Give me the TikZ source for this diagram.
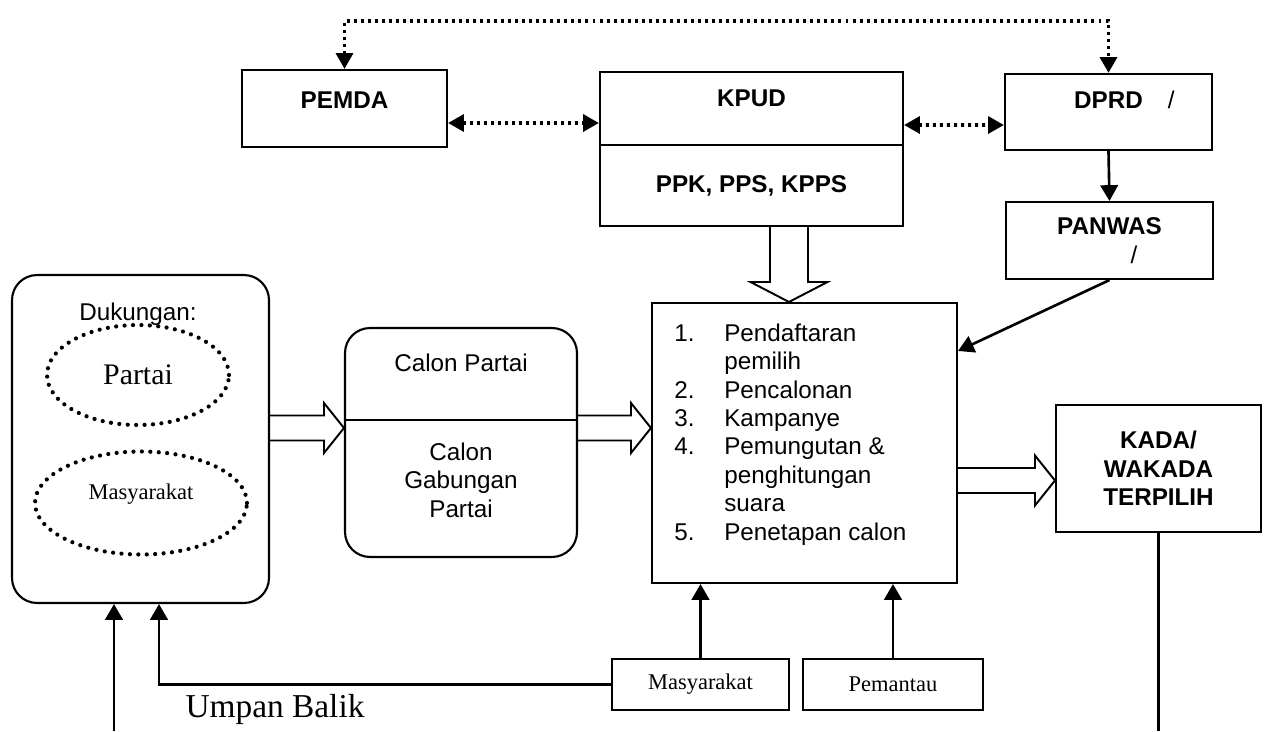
\documentclass[tikz,border=0pt]{standalone}
\usepackage{fontspec}
\setmainfont{Liberation Sans}
\newfontfamily\tnr{Liberation Serif}
\usetikzlibrary{arrows.meta,shapes.geometric,calc}

\tikzset{
  box/.style={draw, line width=1.2pt, inner sep=0pt},
  head/.style={box, font=\fontsize{13.8}{16.2}\selectfont\bfseries},
  rbox/.style={box, rounded corners=0.5cm},
  dotring/.style={ellipse, draw, line width=2.4pt, line cap=round, dash pattern=on 0pt off 4.8pt, inner sep=0pt},
  arrow/.style={line width=1.5pt, -{Triangle[length=9pt,width=10pt]}},
  dotarrow/.style={line width=2.2pt, dash pattern=on 1.7pt off 2.3pt,
    {Triangle[length=9pt,width=9.5pt]}-{Triangle[length=9pt,width=9.5pt]}},
  hollow/.style={line width=1.1pt, line join=miter},
  serifsmall/.style={font=\tnr\fontsize{12.8}{15}\selectfont}
}

% hollow block arrows, from start point to tip
\newcommand{\blockright}[2]{%
  \coordinate (bs) at (#1);
  \coordinate (bt) at (#2);
  \draw[hollow] ($(bs)+(0,-12.5)$) -- ($(bt)+(-20,-12.5)$) -- ($(bt)+(-20,-25)$)
    -- (bt) -- ($(bt)+(-20,25)$) -- ($(bt)+(-20,12.5)$) -- ($(bs)+(0,12.5)$);}
\newcommand{\blockdown}[2]{%
  \coordinate (bs) at (#1);
  \coordinate (bt) at (#2);
  \draw[hollow] ($(bs)+(-19,0)$) -- ($(bt)+(-19,-20)$) -- ($(bt)+(-38.5,-20)$)
    -- (bt) -- ($(bt)+(38.5,-20)$) -- ($(bt)+(19,-20)$) -- ($(bs)+(19,0)$);}

\begin{document}
\begin{tikzpicture}[x=0.02cm, y=-0.02cm, font=\fontsize{13.8}{16.2}\selectfont]
    \useasboundingbox (0,0) rectangle (1269,731);

    % top row
    \node[head, minimum width=4.1cm, minimum height=1.54cm, text depth=9.9pt] (pemda) at (344.5,108.5) {PEMDA};
    \node[head, minimum width=6.06cm, minimum height=1.46cm, text depth=12.2pt] (kpud) at (751.5,108.5) {KPUD};
    \node[head, minimum width=6.06cm, minimum height=1.62cm] (ppk) at (751.5,185.5) {PPK, PPS, KPPS};
    \node[head, minimum width=4.14cm, minimum height=1.52cm, text depth=13.9pt] (dprd) at (1108.5,112) {DPRD\rlap{\mdseries\hspace{0.5cm}/}};
    \node[head, minimum width=4.14cm, minimum height=1.54cm, align=center] (panwas) at (1109.5,240.5) {PANWAS\\\rlap{\mdseries\hspace{0.42cm}/}};

    % dukungan
    \node[rbox, minimum width=5.14cm, minimum height=6.56cm] (duk) at (140.5,439) {};
    \node (dukt) at (138,314) {Dukungan:};
    \node[dotring, minimum width=3.64cm, minimum height=2cm, font=\tnr\fontsize{17}{20}\selectfont] (ptai) at (138,375) {Partai};
    \node[dotring, serifsmall, minimum width=4.24cm, minimum height=2.06cm, text depth=12.5pt] (mell) at (141,503) {Masyarakat};

    % calon
    \coordinate (split) at (0,420);
    \node[rbox, minimum width=4.64cm, minimum height=4.58cm] (calon) at (461,442.5) {};
    \draw[line width=1.2pt] (calon.west |- split) -- (calon.east |- split);
    \node (calp) at (461,363) {Calon Partai};
    \node[align=center] (calg) at (461,480) {Calon\\Gabungan\\Partai};

    % tahapan
    \node[box, minimum width=6.1cm, minimum height=5.6cm] (proc) at (804.5,443) {};
    \node[anchor=west, inner sep=0pt] (steps) at (674,435) {\begin{tabular}{@{}p{1cm}@{}l@{}}
      1. & Pendaftaran\\ & pemilih\\ 2. & Pencalonan\\ 3. & Kampanye\\
      4. & Pemungutan \&\\ & penghitungan\\ & suara\\ 5. & Penetapan calon
    \end{tabular}};

    \node[head, minimum width=4.1cm, minimum height=2.54cm, align=center] (kada) at (1158.5,468.5) {KADA/\\WAKADA\\TERPILIH};

    % bottom row
    \node[box, serifsmall, minimum width=3.54cm, minimum height=1.02cm] (masy) at (700.5,684.5) {Masyarakat};
    \node[box, serifsmall, minimum width=3.6cm, minimum height=1.02cm] (pemantau) at (893,684.5) {Pemantau};
    \node[font=\tnr\fontsize{19}{22}\selectfont] (umpan) at (275,709) {Umpan Balik};

    % dotted links
    \coordinate (topline) at (700,21);
    \draw[dotarrow] (pemda.north) |- (topline) -| (dprd.north);
    \draw[dotarrow] ($(pemda.east)+(0,14.5)$) -- ($(kpud.west)+(0,14.5)$);
    \draw[dotarrow] ($(kpud.east)+(0,16.5)$) -- ($(dprd.west)+(0,13)$);

    % solid arrows
    \draw[arrow] (dprd.south) -- (panwas.north);
    \draw[arrow] (panwas.south) -- ($(proc.north east)+(0,49)$);
    \draw[arrow] (masy.north) -- (proc.south -| masy.north);
    \draw[arrow] (pemantau.north) -- (proc.south -| pemantau.north);
    \draw[arrow] (masy.west) -| ($(duk.south)+(18.5,0)$);
    \coordinate (inlet) at (114,731);
    \draw[arrow] (inlet) -- (duk.south -| inlet);
    \coordinate (outlet) at (1158.5,731);
    \draw[line width=1.5pt] (kada.south) -- (outlet);

    % block arrows
    \coordinate (flowrow) at (0,428);
    \coordinate (outrow) at (0,480.5);
    \coordinate (downcol) at (789,0);
    \blockright{duk.east |- flowrow}{calon.west |- flowrow}
    \blockright{calon.east |- flowrow}{proc.west |- flowrow}
    \blockright{proc.east |- outrow}{kada.west |- outrow}
    \blockdown{ppk.south -| downcol}{proc.north -| downcol}
\end{tikzpicture}
\end{document}
